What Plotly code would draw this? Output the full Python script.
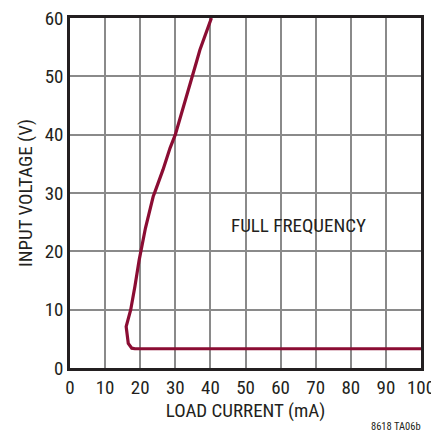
import plotly.graph_objects as go

load_current = [40.3, 38.5, 37.0, 35.9, 34.8, 32.3, 30.0, 28.5, 26.5, 24.2, 23.7,
                21.5, 19.7, 18.5, 17.3, 16.0, 16.6, 17.6, 18.5, 100]
input_voltage = [60, 57, 54.5, 52.2, 50, 45, 40, 37.7, 34, 30.2, 29.4,
                 24, 18.5, 14, 10, 7.1, 4.2, 3.4, 3.3, 3.3]

font_family = "Roboto Condensed, Liberation Sans Narrow, Arial Narrow, sans-serif"
ink = "#231f20"

fig = go.Figure()
fig.add_trace(go.Scatter(x=load_current, y=input_voltage, mode="lines",
                         line=dict(color="#8b0d33", width=3.2), showlegend=False))

fig.add_annotation(x=65, y=24.5, text="FULL FREQUENCY", showarrow=False,
                   font=dict(size=19, color=ink, family=font_family))
fig.add_annotation(x=1.006, y=-0.168, xref="paper", yref="paper", text="8618 TA06b",
                   showarrow=False, xanchor="right", yanchor="middle",
                   font=dict(size=10.5, color=ink, family=font_family))

axis_style = dict(showgrid=True, gridcolor="#8a8a8a", gridwidth=1.5,
                  showline=True, linecolor=ink, linewidth=2.5, mirror=True,
                  zeroline=False, ticks="", automargin=False,
                  ticklabeloverflow="allow",
                  tickfont=dict(size=19, color=ink),
                  title_font=dict(size=19, color=ink))

fig.update_xaxes(range=[0, 100], dtick=10, title_text="LOAD CURRENT (mA)",
                 title_standoff=6, **axis_style)
fig.update_yaxes(range=[0, 60], dtick=10, title_text="INPUT VOLTAGE (V)",
                 title_standoff=8, **axis_style)

# page has an 8px body margin, so the figure is a bit smaller than the window
fig.update_layout(width=431, height=424, margin=dict(l=62, r=18, t=10, b=64),
                  plot_bgcolor="white", paper_bgcolor="white",
                  font=dict(family=font_family, color=ink))

fig.write_html("out.html")
